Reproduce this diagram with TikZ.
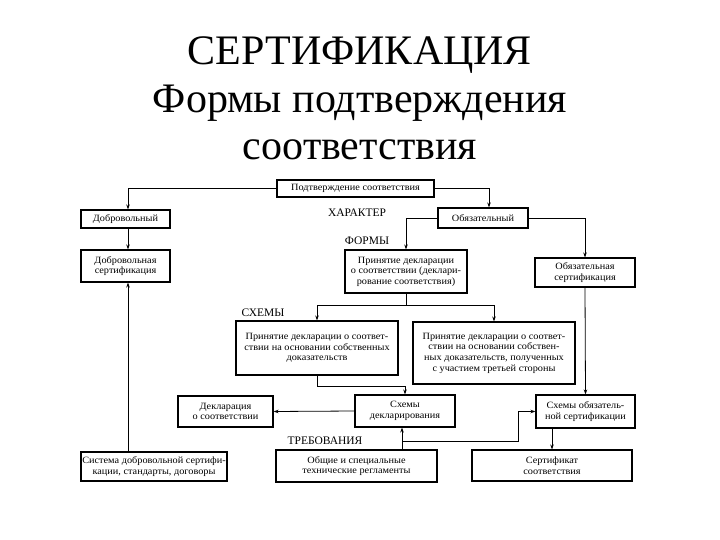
\documentclass[tikz,border=0pt]{standalone}
\usepackage{fontspec}
\setmainfont{Liberation Serif}
\newfontfamily\boxfont[FakeStretch=1.07]{Liberation Serif}
\usetikzlibrary{arrows.meta}
\tikzset{
  blok/.style={draw, line width=1.1pt, align=center, inner sep=0.5pt,
    font=\boxfont\fontsize{9.6}{10.6}\selectfont},
  metka/.style={font=\fontsize{11.5}{13}\selectfont},
  zagl/.style={font=\fontsize{42}{46}\selectfont, anchor=base},
  strelka/.style={-{Stealth[length=5pt,width=3.5pt]}, line width=0.8pt},
  liniya/.style={line width=0.8pt}
}
\begin{document}
\begin{tikzpicture}[x=1pt,y=-1pt]
    \useasboundingbox (0,0) rectangle (720,540);
    % Заголовок
    \node[zagl] (t1) at (360,65) {СЕРТИФИКАЦИЯ};
    \node[zagl] (t2) at (360,113) {Формы подтверждения};
    \node[zagl] (t3) at (360,160) {соответствия};

    % Блоки
    \node[blok, minimum width=157, minimum height=17] (podtv) at (355.5,188.5) {Подтверждение соответствия};
    \node[blok, minimum width=89, minimum height=18] (dobr) at (125.5,219) {Добровольный};
    \node[blok, minimum width=90, minimum height=20] (obyaz) at (483,218) {Обязательный};
    \node[blok, minimum width=89, minimum height=32] (dobrsert) at (125.5,266) {Добровольная\\сертификация};
    \node[blok, minimum width=122, minimum height=43] (prin) at (406,271.5) {Принятие декларации\\о соответствии (деклари-\\рование соответствия)};
    \node[blok, minimum width=100, minimum height=29] (obsert) at (585,272.5) {Обязательная\\сертификация};
    \node[blok, minimum width=162, minimum height=54] (shema1) at (317,348) {Принятие декларации о соответ-\\ствии на основании собственных\\доказательств};
    \node[blok, minimum width=162, minimum height=62] (shema2) at (494,353) {Принятие декларации о соответ-\\ствии на основании собствен-\\ных доказательств, полученных\\с участием третьей стороны};
    \node[blok, minimum width=95, minimum height=31] (deklar) at (225.5,411.5) {Декларация\\о соответствии};
    \node[blok, minimum width=100, minimum height=32] (shdekl) at (405,411) {Схемы\\декларирования};
    \node[blok, minimum width=99, minimum height=33] (shobs) at (585.5,411.5) {Схемы обязатель-\\ной сертификации};
    \node[blok, minimum width=146, minimum height=29] (sistema) at (154,466.5) {Система добровольной сертифи-\\кации, стандарты, договоры};
    \node[blok, minimum width=161, minimum height=32] (obshie) at (356.5,466) {Общие и специальные\\технические регламенты};
    \node[blok, minimum width=160, minimum height=31] (sertif) at (552,465.5) {Сертификат\\соответствия};

    % Подписи
    \node[metka] (harakter) at (357,213) {ХАРАКТЕР};
    \node[metka] (formy) at (367,241) {ФОРМЫ};
    \node[metka] (shemy) at (263,313) {СХЕМЫ};
    \node[metka] (treb) at (325,441) {ТРЕБОВАНИЯ};

    % Связи
    \coordinate (razv) at (406,305);
    \coordinate (sliv) at (405,386);
    \coordinate (otvod) at (402,441);
    \coordinate (izgib) at (518,441);
    \draw[strelka] (podtv.west) -| ([xshift=2.5]dobr.north);
    \draw[strelka] (podtv.east) -| ([xshift=6]obyaz.north);
    \draw[strelka] ([xshift=2.5]dobr.south) -- ([xshift=2.5]dobrsert.north);
    \draw[strelka] (obyaz.west) -| (prin.north);
    \draw[strelka] (obyaz.east) -| (obsert.north);
    \draw[liniya] (prin.south) -- (razv);
    \draw[strelka] (razv) -| (shema1.north);
    \draw[strelka] (razv) -| (shema2.north);
    \draw[strelka] (shema1.south) |- (sliv) -- (shdekl.north);
    \draw[strelka] (shdekl.west) -- (deklar.east);
    \draw[strelka] (obsert.south) -- (shobs.north);
    \draw[strelka] (shobs.south -| sertif.north) -- (sertif.north);
    \draw[strelka] (obshie.north -| otvod) -- (shdekl.south -| otvod);
    \draw[strelka] (otvod) -- (izgib) |- (shobs.west);
    \draw[strelka] (sistema.north -| dobrsert.south) ++(2.5,0) -- ([xshift=2.5]dobrsert.south);
\end{tikzpicture}
\end{document}
